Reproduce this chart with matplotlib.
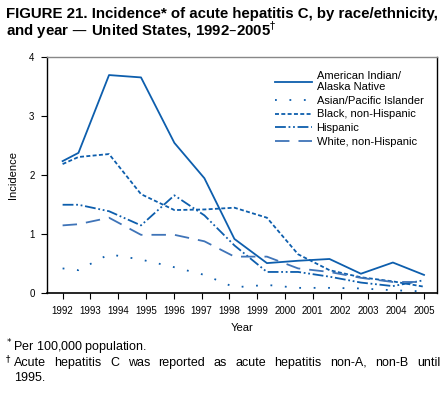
import matplotlib
matplotlib.use("Agg")
import matplotlib.pyplot as plt

plt.rcParams['font.family'] = ['Liberation Sans', 'DejaVu Sans']

# x positions of the plotted vertices (year units)
xpos = [1992.0, 1992.57, 1993.67, 1994.82, 1996.02, 1997.1, 1998.18,
        1999.35, 2000.47, 2001.6, 2002.73, 2003.88, 2005.0]
years = list(range(1992, 2006))

aian = [2.24, 2.38, 3.70, 3.66, 2.55, 1.95, 0.92, 0.51, 0.55, 0.58, 0.33, 0.52, 0.31]
asian = [0.42, 0.39, 0.66, 0.57, 0.44, 0.31, 0.10, 0.14, 0.09, 0.09, 0.08, 0.05, 0.03]
black = [2.19, 2.31, 2.36, 1.68, 1.41, 1.42, 1.45, 1.28, 0.66, 0.39, 0.27, 0.20, 0.11]
hisp = [1.50, 1.50, 1.39, 1.15, 1.66, 1.32, 0.81, 0.36, 0.36, 0.28, 0.18, 0.12, 0.22]
white = [1.15, 1.17, 1.28, 0.99, 0.99, 0.88, 0.62, 0.62, 0.42, 0.36, 0.26, 0.19, 0.19]

blue = '#0d5ead'

fig = plt.figure(figsize=(4.48, 3.93), dpi=100)
ax = fig.add_axes([0.105, 0.254, 0.87, 0.60])

ax.plot(xpos, aian, '-', color=blue, lw=1.3, label='American Indian/\nAlaska Native')
ax.plot(xpos, asian, color=blue, lw=1.3, ls=(0, (1, 7)), label='Asian/Pacific Islander')
ax.plot(xpos, black, color=blue, lw=1.3, ls=(0, (2.2, 1.3)), label='Black, non-Hispanic')
ax.plot(xpos, hisp, color=blue, lw=1.3, ls=(0, (6, 1.5, 1, 1.5, 1, 1.5)), label='Hispanic')
ax.plot(xpos, white, color='#3f74b8', lw=1.3, ls=(0, (8, 5)), label='White, non-Hispanic')

ax.set_xlim(1991.44, 2005.46)
ax.set_ylim(0, 4)
ax.set_xticks(years)
ax.set_xticklabels([str(y) for y in years], fontsize=7)
ax.set_yticks([0, 1, 2, 3, 4])
ax.set_yticklabels(['0', '1', '2', '3', '4'], fontsize=7)
ax.tick_params(direction='out', length=4, width=0.8, pad=5)
ax.spines['top'].set_color('#888888')
ax.spines['top'].set_linewidth(1.0)
ax.spines['right'].set_linewidth(1.0)
ax.spines['left'].set_linewidth(1.0)
ax.spines['bottom'].set_linewidth(1.2)

ax.set_xlabel('Year', fontsize=8, labelpad=5)
ax.set_ylabel('Incidence', fontsize=8, labelpad=8)

leg = ax.legend(loc='upper right', frameon=False, fontsize=8, handlelength=3.3,
                handletextpad=0.45, labelspacing=0.32, borderaxespad=0.8,
                bbox_to_anchor=(1.0, 1.0))

fig.text(0.013, 0.965, 'FIGURE 21. Incidence* of acute hepatitis C, by race/ethnicity,',
         fontsize=10.8, fontweight='bold', va='center', ha='left')
fig.text(0.013, 0.923, 'and year \u2014 United States, 1992\u20132005$^\u2020$',
         fontsize=10.8, fontweight='bold', va='center', ha='left')

fs = 9.0
fig.text(0.011, 0.116, '$^*$Per 100,000 population.', fontsize=fs, va='center', ha='left')
fig.text(0.011, 0.077, '$^\u2020$', fontsize=fs, va='center', ha='left')
fig.text(0.032, 0.037, '1995.', fontsize=fs, va='center', ha='left')

# justified second footnote line
words = 'Acute hepatitis C was reported as acute hepatitis non-A, non-B until'.split()
x0, x1 = 14 / 448, 440 / 448
fig.canvas.draw()
r = fig.canvas.get_renderer()
arts = [fig.text(0, 0.077, w, fontsize=fs, va='center', ha='left') for w in words]
widths = [a.get_window_extent(r).width / fig.bbox.width for a in arts]
gap = (x1 - x0 - sum(widths)) / (len(words) - 1)
x = x0
for a, w in zip(arts, widths):
    a.set_x(x)
    x += w + gap

fig.savefig('out.png', dpi=100)
